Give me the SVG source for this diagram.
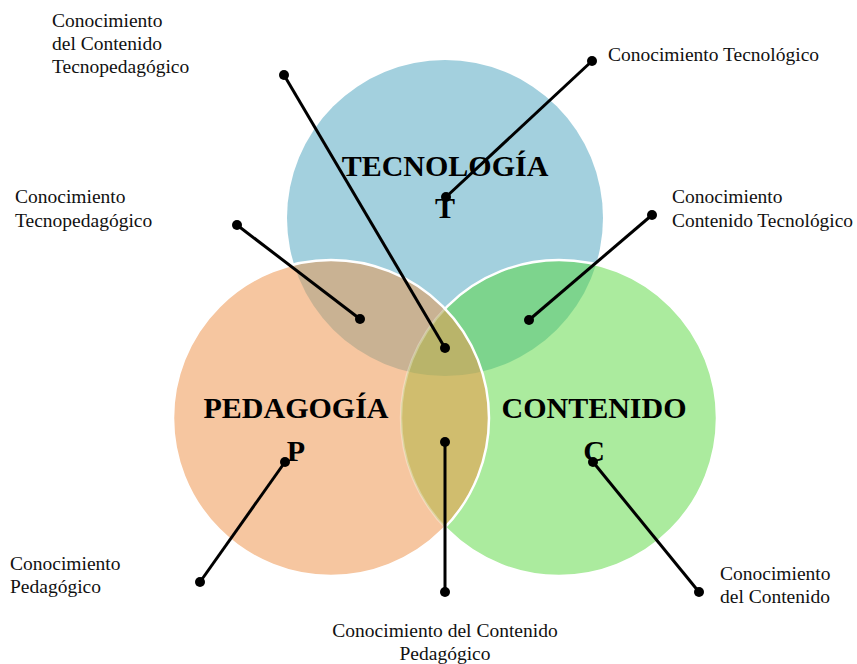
<svg xmlns="http://www.w3.org/2000/svg" width="857" height="664" viewBox="0 0 857 664">
  <defs>
    <style>
      .lbl { font-family: "Liberation Serif", "Times New Roman", serif; font-size: 19.5px; fill: #111; }
      .hdr { font-family: "Liberation Serif", "Times New Roman", serif; font-size: 30px; font-weight: bold; fill: #000; text-anchor: middle; }
      .con { stroke: #000; stroke-width: 3; fill: none; }
      .dot { fill: #000; }
    </style>
    <clipPath id="cT"><circle cx="445" cy="218" r="158"/></clipPath>
    <clipPath id="cP"><circle cx="331" cy="418" r="158"/></clipPath>
    <clipPath id="cNotP"><path clip-rule="evenodd" d="M0 0H857V664H0Z M173 418a158 158 0 1 0 316 0a158 158 0 1 0 -316 0Z"/></clipPath>
  </defs>

  <g id="circles">
    <g id="tecnologia">
      <circle cx="445" cy="218" r="158" fill="#a3d0de"/>
    </g>
    <g id="pedagogia">
      <circle cx="331" cy="418" r="158" fill="#f6c6a0"/>
    </g>
    <g id="contenido">
      <circle cx="559" cy="418" r="158" fill="#abeb9e"/>
    </g>
    <g id="overlaps">
      <circle cx="331" cy="418" r="158" fill="#c9b293" clip-path="url(#cT)"/>
      <circle cx="559" cy="418" r="158" fill="#7dd48d" clip-path="url(#cT)"/>
      <circle cx="559" cy="418" r="158" fill="#d0bd6e" clip-path="url(#cP)"/>
      <g clip-path="url(#cT)">
        <circle cx="559" cy="418" r="158" fill="#b9b46a" clip-path="url(#cP)"/>
      </g>
    </g>
    <g id="outlines" fill="none" stroke="#ffffff" stroke-width="2.5">
      <circle cx="559" cy="418" r="158" clip-path="url(#cNotP)"/>
      <circle cx="559" cy="418" r="158" stroke-opacity="0.3" clip-path="url(#cP)"/>
      <circle cx="331" cy="418" r="158"/>
    </g>
  </g>

  <g id="headers">
    <text class="hdr" x="445" y="176">TECNOLOGÍA</text>
    <text class="hdr" x="445" y="218">T</text>
    <text class="hdr" x="296" y="418">PEDAGOGÍA</text>
    <text class="hdr" x="296" y="461">P</text>
    <text class="hdr" x="594" y="418">CONTENIDO</text>
    <text class="hdr" x="594" y="461">C</text>
  </g>

  <g id="connectors">
    <line class="con" x1="284" y1="75" x2="445" y2="348"/>
    <line class="con" x1="592" y1="61" x2="446" y2="197"/>
    <line class="con" x1="237" y1="225" x2="360" y2="319"/>
    <line class="con" x1="652" y1="215" x2="529" y2="320"/>
    <line class="con" x1="285" y1="462" x2="200" y2="582"/>
    <line class="con" x1="445" y1="442" x2="445" y2="592"/>
    <line class="con" x1="593" y1="462" x2="699" y2="592"/>
    <circle class="dot" cx="284" cy="75" r="5"/>
    <circle class="dot" cx="445" cy="348" r="5"/>
    <circle class="dot" cx="592" cy="61" r="5"/>
    <circle class="dot" cx="446" cy="197" r="5"/>
    <circle class="dot" cx="237" cy="225" r="5"/>
    <circle class="dot" cx="360" cy="319" r="5"/>
    <circle class="dot" cx="652" cy="215" r="5"/>
    <circle class="dot" cx="529" cy="320" r="5"/>
    <circle class="dot" cx="285" cy="462" r="5"/>
    <circle class="dot" cx="200" cy="582" r="5"/>
    <circle class="dot" cx="445" cy="442" r="5"/>
    <circle class="dot" cx="445" cy="592" r="5"/>
    <circle class="dot" cx="593" cy="462" r="5"/>
    <circle class="dot" cx="699" cy="592" r="5"/>
  </g>

  <g id="label-cctp">
    <text class="lbl" x="52" y="27">Conocimiento</text>
    <text class="lbl" x="52" y="50">del Contenido</text>
    <text class="lbl" x="52" y="73">Tecnopedagógico</text>
  </g>
  <g id="label-ct">
    <text class="lbl" x="608" y="61">Conocimiento Tecnológico</text>
  </g>
  <g id="label-ctp">
    <text class="lbl" x="15" y="203">Conocimiento</text>
    <text class="lbl" x="15" y="227">Tecnopedagógico</text>
  </g>
  <g id="label-cct">
    <text class="lbl" x="672" y="203">Conocimiento</text>
    <text class="lbl" x="672" y="227" textLength="181" lengthAdjust="spacingAndGlyphs">Contenido Tecnológico</text>
  </g>
  <g id="label-cp">
    <text class="lbl" x="10" y="570">Conocimiento</text>
    <text class="lbl" x="10" y="593">Pedagógico</text>
  </g>
  <g id="label-cc">
    <text class="lbl" x="720" y="580">Conocimiento</text>
    <text class="lbl" x="720" y="603">del Contenido</text>
  </g>
  <g id="label-ccp">
    <text class="lbl" x="445" y="637" text-anchor="middle">Conocimiento del Contenido</text>
    <text class="lbl" x="445" y="660" text-anchor="middle">Pedagógico</text>
  </g>
</svg>
